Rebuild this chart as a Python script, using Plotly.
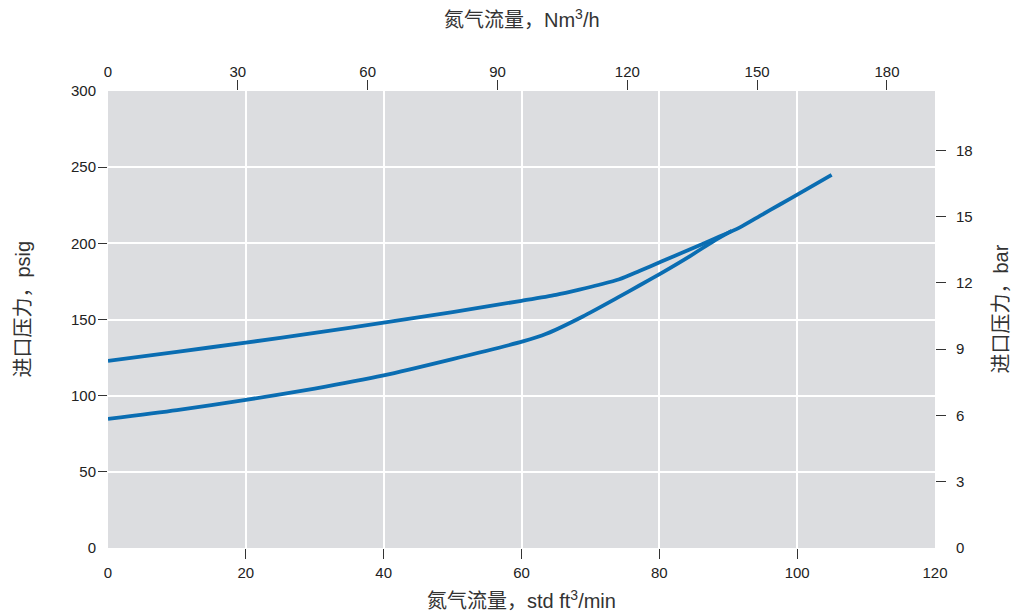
import plotly.graph_objects as go

# ---- data (std ft3/min vs psig) ----
upper_x = [0, 10, 20, 30, 40, 50, 60, 65, 68.4, 71.3, 74.2, 77.1, 80.3, 84.4, 88, 91.7, 94.6, 97.5, 100.4, 105]
upper_y = [122.8, 128.8, 134.8, 141.2, 147.9, 154.9, 162.3, 166.2, 169.6, 172.8, 176.4, 181.8, 188.0, 196.0, 203.0, 210.5, 218.0, 225.5, 233.0, 245.0]

lower_x = [0, 10, 20, 30, 40, 50, 60.2, 63.6, 68.9, 74.2, 77.1, 80.3, 84.4, 88, 90.5]
lower_y = [84.7, 90.5, 97.2, 104.7, 113.3, 124.0, 135.6, 140.6, 152.0, 165.0, 172.3, 180.5, 191.5, 201.8, 208.2]

# axis ticks / ranges
scfm_ticks = [0, 20, 40, 60, 80, 100, 120]
scfm_inner = [20, 40, 60, 80, 100]
scfm_range = [0, 120]
nm3h_ticks = [0, 30, 60, 90, 120, 150, 180]
nm3h_inner = [30, 60, 90, 120, 150, 180]
nm3h_range = [0, 191.1]
psig_ticks = [0, 50, 100, 150, 200, 250, 300]
psig_inner = [50, 100, 150, 200, 250]
psig_range = [0, 300]
bar_ticks = [0, 3, 6, 9, 12, 15, 18]
bar_inner = [3, 6, 9, 12, 15, 18]
bar_range = [0, 300 * 0.0689476]

LINE = "#0a6db2"
BG = "#dcdde0"
TXT = "#222222"
TICKC = "#333333"
FONT = "Liberation Sans, Arial, Noto Sans CJK SC, sans-serif"

fig = go.Figure()
for xs, ys in [(lower_x, lower_y), (upper_x, upper_y)]:
    fig.add_trace(go.Scatter(x=xs, y=ys, mode="lines", line=dict(color=LINE, width=3.8, shape="spline", smoothing=0.7),
                             showlegend=False, hoverinfo="skip"))

# invisible traces so that auxiliary axes render
for xa, ya in [("x2", "y2"), ("x3", "y3"), ("x4", "y4")]:
    fig.add_trace(go.Scatter(x=[None], y=[None], xaxis=xa, yaxis=ya, mode="lines", showlegend=False, hoverinfo="skip"))

tf = dict(family=FONT, size=15, color=TXT)
common = dict(showline=False, zeroline=False, fixedrange=True)

fig.update_layout(
    width=1026, height=615,
    margin=dict(l=108, r=91, t=91, b=67, autoexpand=False),
    paper_bgcolor="white", plot_bgcolor=BG,
    font=dict(family=FONT, color=TXT),
    # label axes (no tick marks)
    xaxis=dict(range=scfm_range, tickmode="array", tickvals=scfm_ticks, ticks="", showgrid=True,
               gridcolor="white", gridwidth=1.6, tickfont=tf, ticklabelstandoff=14, **common),
    yaxis=dict(range=psig_range, tickmode="array", tickvals=psig_ticks, ticks="", showgrid=True,
               gridcolor="white", gridwidth=1.6, tickfont=tf, ticklabelstandoff=11, **common),
    xaxis2=dict(range=nm3h_range, overlaying="x", side="top", anchor="y", tickmode="array", tickvals=nm3h_ticks,
                ticks="", showgrid=False, tickfont=tf, ticklabelstandoff=10, **common),
    yaxis2=dict(range=bar_range, overlaying="y", side="right", anchor="x", tickmode="array", tickvals=bar_ticks,
                ticks="", showgrid=False, tickfont=tf, ticklabelstandoff=20, **common),
    # tick-mark axes (interior ticks only)
    xaxis3=dict(range=scfm_range, overlaying="x", side="bottom", anchor="y", tickmode="array", tickvals=scfm_inner,
                ticks="outside", ticklen=10, tickwidth=1.3, tickcolor=TICKC, showticklabels=False, showgrid=False, **common),
    yaxis3=dict(range=psig_range, overlaying="y", side="left", anchor="x", tickmode="array", tickvals=psig_inner,
                ticks="outside", ticklen=9, tickwidth=1.3, tickcolor=TICKC, showticklabels=False, showgrid=False, **common),
    xaxis4=dict(range=nm3h_range, overlaying="x", side="top", anchor="y", tickmode="array", tickvals=nm3h_inner,
                ticks="outside", ticklen=10, tickwidth=1.3, tickcolor=TICKC, showticklabels=False, showgrid=False, **common),
    yaxis4=dict(range=bar_range, overlaying="y", side="right", anchor="x", tickmode="array", tickvals=bar_inner,
                ticks="outside", ticklen=10, tickwidth=1.3, tickcolor=TICKC, showticklabels=False, showgrid=False, **common),
)

tfont = dict(family=FONT, size=20, color="#333333")
fig.add_annotation(text="氮气流量，std ft<sup>3</sup>/min", xref="paper", yref="paper", x=0.5, y=0,
                   xanchor="center", yanchor="middle", yshift=-51, showarrow=False, font=tfont)
fig.add_annotation(text="氮气流量，Nm<sup>3</sup>/h", xref="paper", yref="paper", x=0.5, y=1,
                   xanchor="center", yanchor="middle", yshift=73, showarrow=False, font=tfont)
fig.add_annotation(text="进口压力，psig", xref="paper", yref="paper", x=0, y=0.5, textangle=-90,
                   xanchor="center", yanchor="middle", xshift=-86, yshift=10, showarrow=False, font=tfont)
fig.add_annotation(text="进口压力，bar", xref="paper", yref="paper", x=1, y=0.5, textangle=-90,
                   xanchor="center", yanchor="middle", xshift=65, yshift=10, showarrow=False, font=tfont)

fig.write_html("out.html", config={"displayModeBar": False},
               post_script="document.body.style.margin='0';document.body.style.padding='0';")
